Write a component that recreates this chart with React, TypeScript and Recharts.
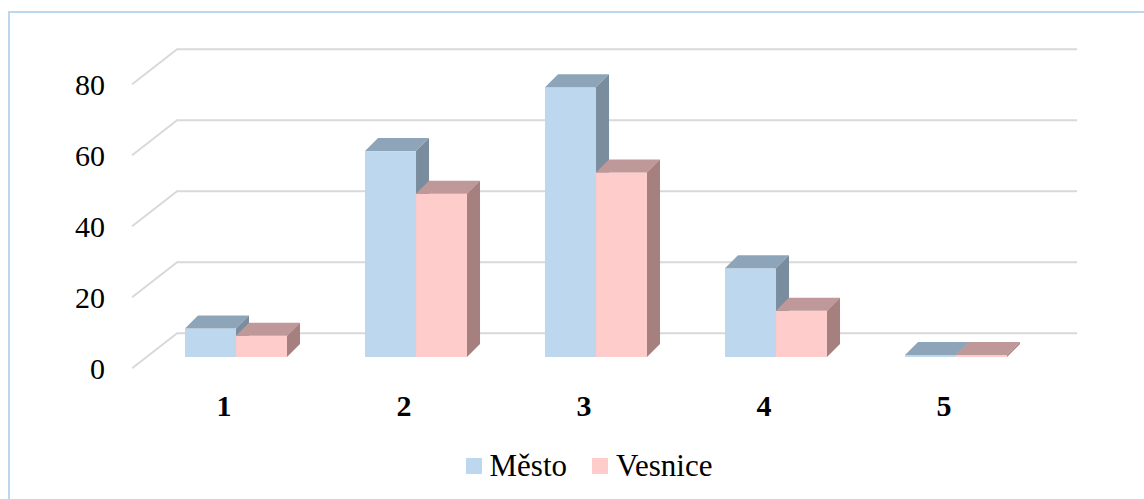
import React from 'react';
import { BarChart, Bar, XAxis, YAxis, CartesianGrid, Legend } from 'recharts';

const categories = ['1', '2', '3', '4', '5'];
const mesto = [8, 58, 76, 25, 0];
const vesnice = [6, 46, 52, 13, 0];
const yTicks = [0, 20, 40, 60, 80];

const data = categories.map((name, i) => ({ name, Mesto: mesto[i], Vesnice: vesnice[i] }));

const FONT = '"Liberation Serif", "Times New Roman", serif';
const DX = 13;
const DY = 13;

// grid: back wall offset and floor-front offset relative to bar front plane
const WALL = { dx: 30.6, dy: -23.8 };
const FLOOR = { dx: -14.4, dy: 11.2 };

const makeBox = (front: string, top: string, side: string) => (props: any) => {
  const { x, y, width } = props;
  const h = Math.max(props.height || 0, 2);
  const yy = (props.height || 0) < 2 ? y - (h - (props.height || 0)) : y;
  return (
    <g>
      <rect x={x} y={yy} width={width} height={h} fill={front} />
      <polygon
        points={`${x},${yy} ${x + DX},${yy - DY} ${x + width + DX},${yy - DY} ${x + width},${yy}`}
        fill={top}
      />
      <polygon
        points={`${x + width},${yy} ${x + width + DX},${yy - DY} ${x + width + DX},${yy + h - DY} ${x + width},${yy + h}`}
        fill={side}
      />
    </g>
  );
};

const MestoBox = makeBox('#bdd7ee', '#8ea5b9', '#7a8d9e');
const VesniceBox = makeBox('#ffcccc', '#bf9999', '#a67f7f');

const gridLine = (props: any) => {
  const { x1, x2, y1, index } = props;
  const d = `M${x1 + FLOOR.dx},${y1 + FLOOR.dy} L${x1 + WALL.dx},${y1 + WALL.dy} L${x2 + WALL.dx},${y1 + WALL.dy}`;
  return <path key={`g-${index}`} d={d} fill="none" stroke="#d9d9d9" strokeWidth={2} />;
};

const YTick = (props: any) => {
  const { y, payload } = props;
  return (
    <text x={105} y={y + FLOOR.dy} textAnchor="end" dominantBaseline="central" fontFamily={FONT} fontSize={30} fill="#000">
      {payload.value}
    </text>
  );
};

const XTick = (props: any) => {
  const { x, payload } = props;
  return (
    <text x={x + FLOOR.dx + 2} y={405} textAnchor="middle" dominantBaseline="central" fontFamily={FONT} fontSize={30} fontWeight="bold" fill="#000">
      {payload.value}
    </text>
  );
};

const legendItems = [
  { label: 'Město', color: '#bdd7ee' },
  { label: 'Vesnice', color: '#ffcccc' },
];

const LegendContent = () => (
  <div style={{ display: 'flex', justifyContent: 'center', alignItems: 'center', gap: 25, fontFamily: FONT, fontSize: 31 }}>
    {legendItems.map((it) => (
      <div key={it.label} style={{ display: 'flex', alignItems: 'center', gap: 8 }}>
        <span style={{ width: 16, height: 16, background: it.color, display: 'inline-block' }} />
        <span style={{ lineHeight: '34px' }}>{it.label}</span>
      </div>
    ))}
  </div>
);

export default function App() {
  return (
    <div style={{ position: 'absolute', left: 0, top: 0, width: 1144, height: 499, background: '#fff', overflow: 'hidden' }}>
      <div style={{ position: 'absolute', left: 8, top: 11, width: 1200, height: 600, border: '2.5px solid #bdd7ee', boxSizing: 'border-box' }} />
      <div style={{ position: 'absolute', left: 0, top: 0 }}>
        <BarChart
          width={1144}
          height={499}
          data={data}
          margin={{ top: 73, right: 97.5, left: 86.5, bottom: 141 }}
          barCategoryGap="21.4%"
          barGap={0}
        >
          <CartesianGrid vertical={false} horizontal={gridLine} />
          <XAxis dataKey="name" height={1} axisLine={false} tickLine={false} tick={<XTick />} interval={0} />
          <YAxis width={60} domain={[0, 80]} ticks={yTicks} axisLine={false} tickLine={false} tick={<YTick />} />
          <Legend
            verticalAlign="middle"
            align="center"
            content={<LegendContent />}
            wrapperStyle={{ top: 449, left: 0, width: 1178 }}
          />
          <Bar dataKey="Mesto" name="Město" fill="#bdd7ee" shape={<MestoBox />} isAnimationActive={false} />
          <Bar dataKey="Vesnice" name="Vesnice" fill="#ffcccc" shape={<VesniceBox />} isAnimationActive={false} />
        </BarChart>
      </div>
    </div>
  );
}
